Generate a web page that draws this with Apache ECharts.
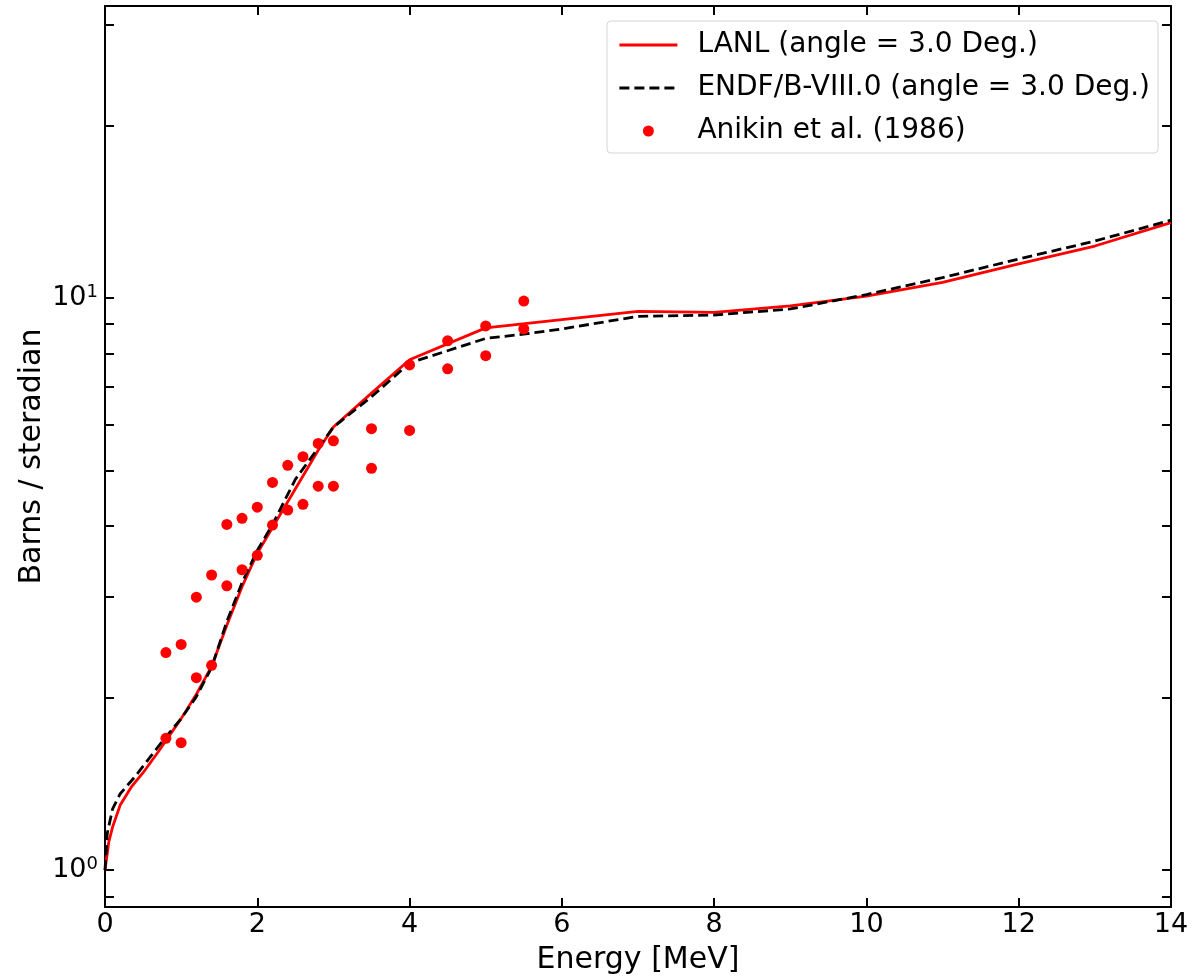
<!DOCTYPE html>
<html><head><meta charset="utf-8">
<script src="https://cdn.jsdelivr.net/npm/echarts@6/dist/echarts.min.js"></script>
<style>html,body{margin:0;padding:0;background:#fff}#c{width:1192px;height:980px}</style>
</head><body><div id="c"></div>
<script>
const seriesNames = ['LANL (angle = 3.0 Deg.)', 'ENDF/B-VIII.0 (angle = 3.0 Deg.)', 'Anikin et al. (1986)'];

const lanlEnergy = [0, 0.05, 0.1, 0.2, 0.35, 0.5, 0.7, 0.9, 1.0, 1.2, 1.4, 1.6, 1.8, 2.0, 2.2, 2.8, 3.0, 3.5, 4.0, 5.0, 7.0, 8.0, 9.0, 10.0, 11.0, 12.0, 13.0, 14.0];
const lanlValue  = [1.0, 1.12, 1.19, 1.30, 1.40, 1.48, 1.61, 1.76, 1.84, 2.03, 2.27, 2.68, 3.13, 3.58, 3.97, 5.42, 5.95, 6.82, 7.80, 8.87, 9.48, 9.44, 9.69, 10.08, 10.65, 11.48, 12.33, 13.55];

const endfEnergy = [0, 0.03, 0.1, 0.2, 0.4, 0.6, 0.8, 1.0, 1.2, 1.4, 1.6, 1.8, 2.0, 2.2, 2.5, 3.0, 3.5, 4.0, 5.0, 5.5, 6.0, 7.0, 8.0, 9.0, 10.0, 11.0, 12.0, 13.0, 14.0];
const endfValue  = [1.0, 1.16, 1.28, 1.36, 1.46, 1.58, 1.71, 1.84, 2.01, 2.26, 2.72, 3.18, 3.62, 4.02, 4.82, 5.95, 6.72, 7.70, 8.50, 8.65, 8.83, 9.29, 9.34, 9.57, 10.14, 10.86, 11.70, 12.58, 13.68];

const anikinEnergy = [0.8, 0.8, 1.0, 1.0, 1.2, 1.2, 1.4, 1.4, 1.6, 1.6, 1.8, 1.8, 2.0, 2.0, 2.2, 2.2, 2.4, 2.4, 2.6, 2.6, 2.8, 2.8, 3.0, 3.0, 3.5, 3.5, 4.0, 4.0, 4.5, 4.5, 5.0, 5.0, 5.5, 5.5];
const anikinValue  = [2.40, 1.70, 2.48, 1.67, 3.00, 2.17, 3.28, 2.28, 4.02, 3.14, 4.12, 3.35, 4.31, 3.55, 4.76, 4.01, 5.10, 4.26, 5.28, 4.36, 5.57, 4.69, 5.63, 4.69, 5.91, 5.04, 7.64, 5.87, 8.42, 7.52, 8.94, 7.93, 9.88, 8.83];

const yLabelValues = [1, 10];
const yTickValues = [0.9, 1, 2, 3, 4, 5, 6, 7, 8, 9, 10, 20, 30];

const FONT = 'DejaVu Sans';
const FTICK = 27;
const FLEG = 28;
const FT = 30;
const pair = (xs, ys) => xs.map((x, i) => [x, ys[i]]);

const lineStyleAxis = { color: '#000', width: 2 };
const tickStyle = { inside: true, length: 9, lineStyle: { color: '#000', width: 2 } };

const chart = echarts.init(document.getElementById('c'), null, { renderer: 'canvas' });

const xCommon = {
  type: 'value', min: 0, max: 14, interval: 2,
  axisLine: { show: true, onZero: false, lineStyle: lineStyleAxis },
  axisTick: tickStyle,
  splitLine: { show: false }
};
const yCommon = {
  type: 'log', logBase: 10, min: 0.862, max: 32.4,
  axisLine: { show: true, onZero: false, lineStyle: lineStyleAxis },
  axisTick: Object.assign({}, tickStyle, { customValues: yTickValues }),
  splitLine: { show: false },
  minorTick: { show: false }
};

const hiddenSymbol = { color: 'rgba(0,0,0,0)', borderWidth: 0, opacity: 0 };

chart.setOption({
  animation: false,
  backgroundColor: '#fff',
  grid: { left: 105, right: 21, top: 6, bottom: 70, containLabel: false },
  legend: {
    orient: 'vertical', left: 607, top: 21,
    data: [
      { name: seriesNames[0], itemStyle: hiddenSymbol },
      { name: seriesNames[1], itemStyle: hiddenSymbol },
      { name: seriesNames[2] }
    ],
    itemWidth: 58, itemHeight: 11, itemGap: 13,
    padding: [9, 8, 7, 11],
    backgroundColor: '#fff', borderColor: '#d5d5d5', borderWidth: 1, borderRadius: 4,
    selectedMode: false,
    lineStyle: { width: 2.8 },
    textStyle: { color: '#000', fontFamily: FONT, fontSize: FLEG, lineHeight: 30, padding: [0, 0, 0, 15] }
  },
  xAxis: [
    Object.assign({}, xCommon, {
      position: 'bottom',
      axisLabel: { color: '#000', fontFamily: FONT, fontSize: FTICK, margin: 4 },
      name: 'Energy [MeV]', nameLocation: 'middle', nameGap: 38, nameMoveOverlap: false,
      nameTextStyle: { color: '#000', fontFamily: FONT, fontSize: FT }
    }),
    Object.assign({}, xCommon, { position: 'top', axisLabel: { show: false } })
  ],
  yAxis: [
    Object.assign({}, yCommon, {
      position: 'left',
      axisLabel: {
        customValues: yLabelValues, margin: 7, color: '#000',
        formatter: v => '{b|10}{s|' + Math.round(Math.log10(v)) + '}',
        rich: {
          b: { fontFamily: FONT, fontSize: FTICK, color: '#000', lineHeight: 30 },
          s: { fontFamily: FONT, fontSize: 18, color: '#000', verticalAlign: 'top', lineHeight: 18 }
        }
      },
      name: 'Barns / steradian', nameLocation: 'middle', nameGap: 58, nameRotate: 90, nameMoveOverlap: false,
      nameTextStyle: { color: '#000', fontFamily: FONT, fontSize: FT }
    }),
    Object.assign({}, yCommon, { position: 'right', axisLabel: { show: false } })
  ],
  series: [
    {
      name: seriesNames[0], type: 'line', xAxisIndex: 0, yAxisIndex: 0,
      data: pair(lanlEnergy, lanlValue), symbol: 'none', z: 2,
      lineStyle: { color: '#ff0000', width: 2.8 }, itemStyle: { color: '#ff0000' }
    },
    {
      name: seriesNames[1], type: 'line', xAxisIndex: 0, yAxisIndex: 0,
      data: pair(endfEnergy, endfValue), symbol: 'none', z: 3,
      lineStyle: { color: '#000', width: 2.8, type: [10, 5] }, itemStyle: { color: '#000' }
    },
    {
      name: seriesNames[2], type: 'scatter', xAxisIndex: 0, yAxisIndex: 0,
      data: pair(anikinEnergy, anikinValue), symbol: 'circle', symbolSize: 11, z: 4,
      itemStyle: { color: '#ff0000', opacity: 1 }
    }
  ]
});
</script></body></html>
